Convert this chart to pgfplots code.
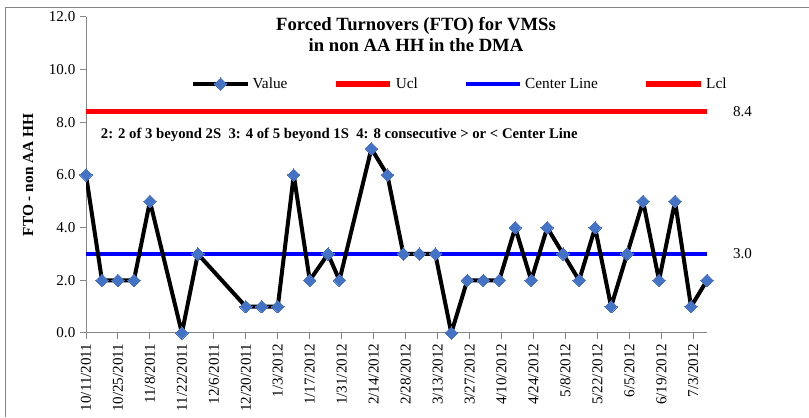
\documentclass[border=0pt]{standalone}
\usepackage{pgfplots}
\pgfplotsset{compat=1.18}
\usepackage{fontspec}
\setmainfont{Liberation Serif}
\definecolor{mk}{HTML}{4472C4}
\definecolor{axc}{HTML}{868686}
\begin{document}
\begin{tikzpicture}[x=1pt,y=1pt]
\useasboundingbox (0,0) rectangle (606.75,312.75);
\draw[axc, line width=0.75pt] (3.75,0) -- (3.75,306.75) -- (606.75,306.75);
\begin{axis}[
  at={(64.5pt,63pt)}, anchor=south west,
  scale only axis, width=465.75pt, height=237pt,
  xmin=0, xmax=272, ymin=0, ymax=12,
  axis x line=bottom, axis y line=left,
  axis line style={axc, line width=0.75pt, -},
  xtick={0,14,...,266},
  xticklabels={10/11/2011,10/25/2011,11/8/2011,11/22/2011,12/6/2011,12/20/2011,1/3/2012,1/17/2012,1/31/2012,2/14/2012,2/28/2012,3/13/2012,3/27/2012,4/10/2012,4/24/2012,5/8/2012,5/22/2012,6/5/2012,6/19/2012,7/3/2012},
  xticklabel style={rotate=90, anchor=east},
  ytick={0,2,...,12},
  yticklabel={\pgfmathprintnumber[fixed,fixed zerofill,precision=1,assume math mode=true]{\tick}},
  tick style={axc, line width=0.75pt},
  tick align=outside, major tick length=4.5pt,
  tick label style={font=\fontsize{11.3}{13}\selectfont},
  clip mode=individual,
  legend columns=4,
  legend image code/.code={\draw[mark repeat=2, mark phase=2, #1] plot coordinates {(0pt,0pt) (20.5pt,0pt) (41pt,0pt)};},
  legend style={draw=none, fill=none, at={(0.1626,0.788)}, anchor=west,
    font=\fontsize{11.5}{13}\selectfont,
    /tikz/every even column/.append style={column sep=32.2pt}},
]
\addplot[red, line width=4pt, forget plot] coordinates {(0,8.4) (272,8.4)};
\addplot[blue, line width=3.2pt, forget plot] coordinates {(0,3.0) (272,3.0)};
\addplot[red, line width=4pt, forget plot] coordinates {(0,-2.4) (272,-2.4)};
\addplot[black, line width=3pt, line join=round, mark=square*, mark size=3.3pt,
  mark options={fill=mk, draw=mk, rotate=45, line width=0pt, solid}, forget plot]
 coordinates {
 (0,6) (7,2) (14,2) (21,2) (28,5) (42,0) (49,3) (70,1) (77,1) (84,1)
 (91,6) (98,2) (106,3) (111,2) (125,7) (132,6) (139,3) (146,3) (153,3) (160,0)
 (167,2) (174,2) (181,2) (188,4) (195,2) (202,4) (209,3) (216,2) (223,4) (230,1)
 (237,3) (244,5) (251,2) (258,5) (265,1) (272,2)
 };
\addlegendimage{black, line width=3pt, mark=square*, mark size=3.3pt,
  mark options={fill=mk, draw=mk, rotate=45, line width=0pt, solid}}
\addlegendentry{Value}
\addlegendimage{red, line width=4pt}
\addlegendentry{Ucl}
\addlegendimage{blue, line width=3.2pt}
\addlegendentry{Center Line}
\addlegendimage{red, line width=4pt}
\addlegendentry{Lcl}
\node[anchor=west, font=\fontsize{11.3}{13}\selectfont, xshift=16pt] at (axis cs:272,8.4) {8.4};
\node[anchor=west, font=\fontsize{11.3}{13}\selectfont, xshift=16pt] at (axis cs:272,3.0) {3.0};
\end{axis}
\node[anchor=base, font=\bfseries\fontsize{14}{16}\selectfont] at (312,289.5) {Forced Turnovers (FTO) for VMSs};
\node[anchor=base, font=\bfseries\fontsize{14}{16}\selectfont] at (312,273.75) {in non AA HH in the DMA};
\node[anchor=base west, inner sep=0pt, font=\bfseries\fontsize{11.05}{13}\selectfont] at (75.5,208.5) {2: 2 of 3 beyond 2S\ \ 3: 4 of 5 beyond 1S\ \ 4: 8 consecutive > or < Center Line};
\node[rotate=90, font=\bfseries\fontsize{11.5}{13}\selectfont] at (21,181.5) {FTO - non AA HH};
\end{tikzpicture}
\end{document}
